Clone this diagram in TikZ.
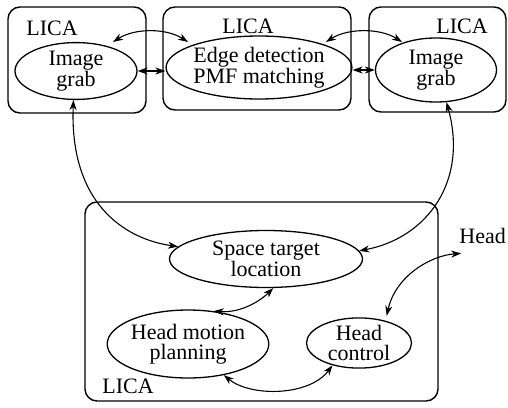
\documentclass[tikz,border=0pt]{standalone}
\usepackage{fontspec}
\setmainfont{Liberation Serif}
\usetikzlibrary{shapes.geometric,arrows.meta}
\begin{document}
\begin{tikzpicture}[x=1pt,y=-1pt,
  >={Stealth[length=10pt,width=7pt,inset=3pt]},
  lica/.style={draw,line width=1.4pt,rounded corners=12pt,inner sep=0pt},
  proc/.style={draw,ellipse,line width=1.3pt,inner sep=0pt,align=center,
    font=\fontsize{22}{20}\selectfont},
  lbl/.style={inner sep=0pt,anchor=base,font=\fontsize{22}{22}\selectfont},
  link/.style={<->,line width=1.1pt}]
\useasboundingbox (0,0) rectangle (508,407);

% LICA containers
\node[lica,minimum width=138pt,minimum height=106pt] (bL) at (77,60) {};
\node[lica,minimum width=188pt,minimum height=103pt] (bM) at (257,58.5) {};
\node[lica,minimum width=137pt,minimum height=105pt] (bR) at (437.5,59.5) {};
\node[lica,minimum width=353pt,minimum height=199pt] (bB) at (261.5,301.5) {};

\node[lbl] (lL) at (52,35) {LICA};
\node[lbl] (lM) at (248,33) {LICA};
\node[lbl] (lR) at (462,33) {LICA};
\node[lbl] (lB) at (128,393) {LICA};

% processes
\node[proc,minimum width=122pt,minimum height=50pt] (lig) at (76,71) {Image\\grab};
\node[proc,minimum width=178pt,minimum height=63pt] (edg) at (259,67.5) {Edge detection\\PMF matching};
\node[proc,minimum width=121pt,minimum height=64pt] (rig) at (436,70) {Image\\grab};
\node[proc,minimum width=193pt,minimum height=57pt] (st) at (266,259) {Space target\\location};
\node[proc,minimum width=153pt,minimum height=68pt] (hmp) at (188,344) {Head motion\\planning};
\node[proc,minimum width=105pt,minimum height=50pt] (hc) at (359,343) {Head\\control};

\node[lbl,anchor=base east] (head) at (506,243) {Head};

% free ends of the inter-module links
\coordinate (a1) at (113,42);
\coordinate (a2) at (188,42);
\coordinate (a3) at (326,42);
\coordinate (a4) at (402,42);
\coordinate (hin) at ([shift={(2pt,-10pt)}]head.south west);

% links between the image modules
\draw[link] (a1) .. controls +(22,-14) and +(-22,-14) .. (a2);
\draw[link] (a3) .. controls +(22,-14) and +(-22,-14) .. (a4);
\draw[link] (lig.east) -- (edg.west |- lig.east);
\draw[link] (edg.east |- rig.west) -- (rig.west);

% image grabs to target location
\draw[link] (lig.265) .. controls +(-4,102) and +(-55,-8) .. (st.172);
\draw[link] (rig.288) .. controls +(22,79) and +(68,-13) .. (st.5);

% head loop
\draw[link] (hmp.52) .. controls +(28,2) and +(-12,12) .. (st.284);
\draw[link,shorten <=5pt] (hc.40) .. controls +(10,-45) and +(-30,2) .. (hin);
\draw[link] (hmp.319) .. controls +(27,22) and +(-23,31) .. (hc.220);
\end{tikzpicture}
\end{document}
